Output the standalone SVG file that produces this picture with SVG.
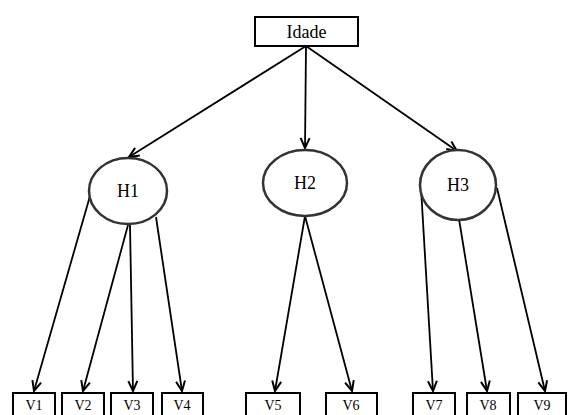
<svg xmlns="http://www.w3.org/2000/svg" width="570" height="415" viewBox="0 0 570 415">
  <style>
    .box { fill: #fff; stroke: #000; stroke-width: 2; }
    .hub { fill: #fff; stroke: #333; stroke-width: 2.5; }
    .lbl { font-family: "Liberation Serif", "Times New Roman", serif; fill: #000; text-anchor: middle; }
    .big { font-size: 18px; }
    .small { font-size: 14px; }
    .edge { stroke: #000; stroke-width: 1.8; fill: none; marker-end: url(#arrow); }
  </style>
  <defs>
    <marker id="arrow" markerUnits="userSpaceOnUse" markerWidth="12" markerHeight="12" viewBox="0 0 12 12" refX="11" refY="6" orient="auto">
      <path d="M1,1.5 L11,6 L1,10.5" fill="none" stroke="#000" stroke-width="2"/>
    </marker>
  </defs>
  <rect width="570" height="415" fill="#fff"/>

  <g id="connectors">
    <line class="edge" x1="306" y1="46" x2="129" y2="157"/>
    <line class="edge" x1="306" y1="46" x2="305" y2="148"/>
    <line class="edge" x1="306" y1="46" x2="457" y2="151"/>
    <line class="edge" x1="90" y1="196" x2="34" y2="391"/>
    <line class="edge" x1="128" y1="225" x2="83" y2="391"/>
    <line class="edge" x1="130" y1="225" x2="133" y2="391"/>
    <line class="edge" x1="156" y1="217" x2="182" y2="391"/>
    <line class="edge" x1="305" y1="216" x2="275" y2="391"/>
    <line class="edge" x1="305" y1="216" x2="352" y2="391"/>
    <line class="edge" x1="421" y1="188" x2="433" y2="391"/>
    <line class="edge" x1="459" y1="219" x2="487" y2="391"/>
    <line class="edge" x1="497" y1="188" x2="545" y2="391"/>
  </g>

  <g id="idade">
    <rect class="box" x="255" y="17" width="103" height="29"/>
    <text class="lbl big" x="306.5" y="38">Idade</text>
  </g>

  <g id="h1">
    <ellipse class="hub" cx="128" cy="191" rx="39" ry="33"/>
    <text class="lbl big" x="128" y="197">H1</text>
  </g>
  <g id="h2">
    <ellipse class="hub" cx="305" cy="183" rx="42" ry="33"/>
    <text class="lbl big" x="305" y="189">H2</text>
  </g>
  <g id="h3">
    <ellipse class="hub" cx="458" cy="185" rx="38" ry="35"/>
    <text class="lbl big" x="458" y="191">H3</text>
  </g>

  <g id="v1"><rect class="box" x="13" y="393" width="42" height="30"/><text class="lbl small" x="34" y="410">V1</text></g>
  <g id="v2"><rect class="box" x="62" y="393" width="42" height="30"/><text class="lbl small" x="83" y="410">V2</text></g>
  <g id="v3"><rect class="box" x="111" y="393" width="42" height="30"/><text class="lbl small" x="132" y="410">V3</text></g>
  <g id="v4"><rect class="box" x="162" y="393" width="41" height="30"/><text class="lbl small" x="182" y="410">V4</text></g>
  <g id="v5"><rect class="box" x="246" y="393" width="54" height="30"/><text class="lbl small" x="273" y="410">V5</text></g>
  <g id="v6"><rect class="box" x="326" y="393" width="51" height="30"/><text class="lbl small" x="351" y="410">V6</text></g>
  <g id="v7"><rect class="box" x="413" y="393" width="42" height="30"/><text class="lbl small" x="434" y="410">V7</text></g>
  <g id="v8"><rect class="box" x="467" y="393" width="43" height="30"/><text class="lbl small" x="488" y="410">V8</text></g>
  <g id="v9"><rect class="box" x="518" y="393" width="48" height="30"/><text class="lbl small" x="542" y="410">V9</text></g>
</svg>
